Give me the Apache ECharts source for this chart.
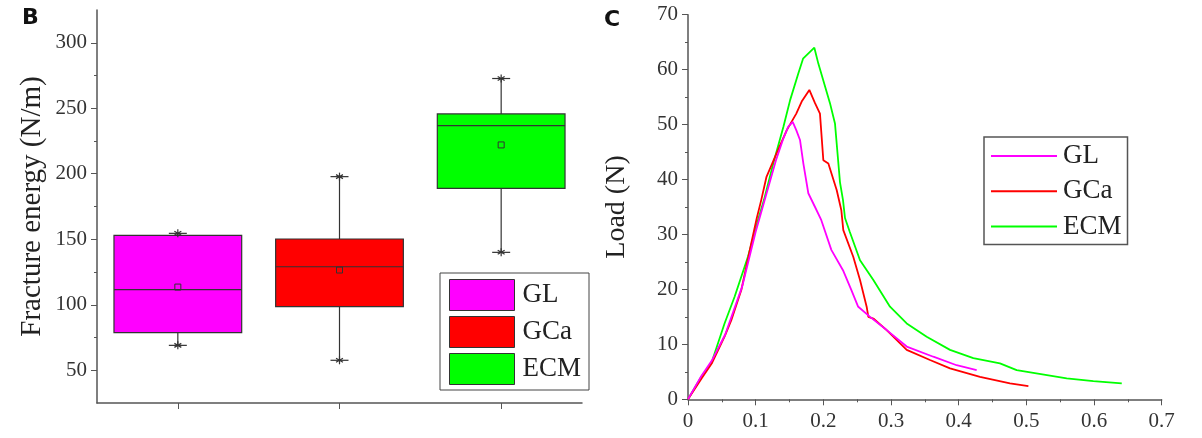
<!DOCTYPE html>
<html>
<head>
<meta charset="utf-8">
<script src="https://cdn.jsdelivr.net/npm/echarts@6/dist/echarts.min.js"></script>
<style>
  html, body { margin: 0; padding: 0; background: #fff; }
  #chart { width: 1202px; height: 438px; }
</style>
</head>
<body>
<div id="chart"></div>
<script>
// panel B: box plot of fracture energy
var groups = ['GL', 'GCa', 'ECM'];
var groupColors = ['#ff00ff', '#ff0000', '#00ff00'];
var boxMin = [69, 57.6, 140];
var boxQ1 = [78.7, 98.6, 188.8];
var boxMedian = [111.5, 129, 236.8];
var boxQ3 = [153, 150.2, 245.7];
var boxMax = [154.5, 197.8, 272.7];
var boxMean = [113.5, 126.5, 222];
var energyLabels = [50, 100, 150, 200, 250, 300];
var energyMinor = [75, 125, 175, 225, 275];

// panel C: load vs displacement curves
var glX = [0, 0.02, 0.035, 0.055, 0.08, 0.1, 0.115, 0.13, 0.141, 0.148, 0.1547, 0.16, 0.1655, 0.1705, 0.1778, 0.1877, 0.197, 0.2118, 0.229, 0.2413, 0.2512, 0.269, 0.2936, 0.3232, 0.3625, 0.397, 0.4266];
var glY = [0, 4.3, 7, 11.8, 20.5, 30.5, 37, 43.5, 47.5, 49.6, 50.5, 49, 47.2, 42.9, 37.5, 35, 32.6, 27.2, 23.5, 19.9, 16.9, 15, 12.6, 9.6, 7.75, 6.2, 5.3];
var gcaX = [0, 0.02, 0.035, 0.054, 0.064, 0.0788, 0.0935, 0.1015, 0.1083, 0.116, 0.131, 0.146, 0.16, 0.168, 0.1793, 0.1877, 0.195, 0.2, 0.2074, 0.2197, 0.2266, 0.2295, 0.2443, 0.2542, 0.264, 0.2665, 0.2739, 0.2936, 0.3232, 0.3576, 0.3872, 0.4315, 0.4758, 0.503];
var gcaY = [0, 3.8, 6.5, 11.4, 14.4, 19.9, 28.4, 32.9, 36.3, 40.5, 44.8, 49, 52, 54.2, 56.3, 53.9, 52, 43.5, 42.9, 38.1, 34.4, 30.8, 25.9, 21.7, 16.85, 15, 14.7, 12.6, 9, 7.15, 5.64, 4.1, 2.9, 2.4];
var ecmX = [0, 0.0197, 0.0345, 0.054, 0.069, 0.0887, 0.1034, 0.1123, 0.126, 0.141, 0.151, 0.163, 0.17, 0.1867, 0.1926, 0.2098, 0.2172, 0.2246, 0.229, 0.232, 0.239, 0.2542, 0.2739, 0.2985, 0.3232, 0.3527, 0.3872, 0.4216, 0.461, 0.4857, 0.5103, 0.5596, 0.599, 0.641];
var ecmY = [0, 4.1, 6.55, 13.8, 18.7, 26, 32.6, 36.3, 42.9, 49.6, 54.5, 59.3, 62, 64, 61.1, 53.9, 50.2, 39.5, 36.3, 33, 30.5, 25.3, 21.7, 16.85, 13.8, 11.4, 9, 7.5, 6.55, 5.3, 4.8, 3.8, 3.3, 2.9];

var serif = '"Liberation Serif", "Times New Roman", serif';
var axisColor = '#555';
var textColor = '#333';

function zip(xs, ys) {
    return xs.map(function (x, i) { return [x, ys[i]]; });
}

function asterisk(x, y, r) {
    var lines = [];
    [90, 30, -30].forEach(function (deg) {
        var a = deg * Math.PI / 180;
        var dx = Math.cos(a) * r, dy = Math.sin(a) * r;
        lines.push({
            type: 'line',
            shape: { x1: x - dx, y1: y - dy, x2: x + dx, y2: y + dy },
            style: { stroke: '#333', lineWidth: 1.2 }
        });
    });
    return lines;
}

function renderBox(params, api) {
    var cat = api.value(0);
    var pt = function (v) { return api.coord([cat, v]); };
    var band = api.size([1, 0])[0];
    var half = band * 0.79 / 2;
    var pMin = pt(api.value(1)), pQ1 = pt(api.value(2)), pMed = pt(api.value(3));
    var pQ3 = pt(api.value(4)), pMax = pt(api.value(5)), pMean = pt(api.value(6));
    var x = pMed[0];
    var line = function (x1, y1, x2, y2) {
        return { type: 'line', shape: { x1: x1, y1: y1, x2: x2, y2: y2 }, style: { stroke: '#333', lineWidth: 1.2 } };
    };
    var children = [
        line(x, pMax[1], x, pQ3[1]),
        line(x, pQ1[1], x, pMin[1]),
        line(x - 9, pMax[1], x + 9, pMax[1]),
        line(x - 9, pMin[1], x + 9, pMin[1]),
        {
            type: 'rect',
            shape: { x: x - half, y: pQ3[1], width: half * 2, height: pQ1[1] - pQ3[1] },
            style: { fill: api.visual('color'), stroke: '#333', lineWidth: 1.2 }
        },
        line(x - half, pMed[1], x + half, pMed[1]),
        {
            type: 'rect',
            shape: { x: x - 3, y: pMean[1] - 3, width: 6, height: 6 },
            style: { fill: 'none', stroke: '#333', lineWidth: 1 }
        }
    ];
    return { type: 'group', children: children.concat(asterisk(x, pMax[1], 4), asterisk(x, pMin[1], 4)) };
}

var boxSeries = groups.map(function (g, i) {
    return {
        name: g,
        type: 'custom',
        xAxisIndex: 0,
        yAxisIndex: 0,
        itemStyle: { color: groupColors[i] },
        renderItem: renderBox,
        encode: { x: 0, y: [1, 2, 3, 4, 5, 6] },
        data: [[i, boxMin[i], boxQ1[i], boxMedian[i], boxQ3[i], boxMax[i], boxMean[i]]],
        z: 2
    };
});

var curves = [zip(glX, glY), zip(gcaX, gcaY), zip(ecmX, ecmY)];
var lineSeries = groups.map(function (g, i) {
    return {
        name: g,
        type: 'line',
        xAxisIndex: 1,
        yAxisIndex: 2,
        symbol: 'none',
        lineStyle: { color: groupColors[i], width: 1.8 },
        data: curves[i],
        z: 3 - i
    };
});

var axisLabelStyle = { fontFamily: serif, fontSize: 21, color: textColor };

var option = {
    animation: false,
    backgroundColor: '#fff',
    graphic: [
        { type: 'text', left: 22, top: 7, style: { text: 'B', font: 'bold 22px "DejaVu Sans", sans-serif', fill: '#111' } },
        { type: 'text', left: 604, top: 9, style: { text: 'C', font: 'bold 22px "DejaVu Sans", sans-serif', fill: '#111' } }
    ],
    grid: [
        { left: 97, top: 10, width: 485, bottom: 35 },
        { left: 688, top: 14.7, width: 473.7, bottom: 38.7 }
    ],
    legend: [
        {
            data: groups,
            orient: 'vertical',
            left: 440,
            top: 273,
            icon: 'rect',
            itemWidth: 65,
            itemHeight: 31,
            itemGap: 5,
            padding: [6, 8, 5, 9],
            borderColor: '#444',
            borderWidth: 1,
            itemStyle: { borderColor: '#333', borderWidth: 1 },
            textStyle: { fontFamily: serif, fontSize: 27, color: '#222', lineHeight: 31, padding: [0, 0, 0, 3] }
        },
        {
            data: groups,
            orient: 'vertical',
            left: 984,
            top: 137,
            icon: 'rect',
            itemWidth: 66,
            itemHeight: 2,
            itemGap: 5.3,
            padding: [4, 6, 3, 7],
            borderColor: '#555',
            borderWidth: 1.5,
            itemStyle: { borderWidth: 0 },
            textStyle: { fontFamily: serif, fontSize: 27, color: '#222', lineHeight: 30, padding: [0, 0, 0, 1] }
        }
    ],
    xAxis: [
        {
            type: 'category',
            gridIndex: 0,
            data: groups,
            axisLine: { lineStyle: { color: axisColor, width: 1.5 } },
            axisTick: { show: true, alignWithLabel: true, interval: 0, length: 6, lineStyle: { color: axisColor } },
            axisLabel: { show: true, interval: 0, formatter: function () { return ''; } },
            splitLine: { show: false }
        },
        {
            type: 'value',
            gridIndex: 1,
            min: 0,
            max: 0.7,
            interval: 0.1,
            axisLine: { lineStyle: { color: axisColor, width: 1.5 } },
            axisTick: { length: 6, lineStyle: { color: axisColor } },
            minorTick: { show: true, splitNumber: 2, length: 3, lineStyle: { color: axisColor } },
            axisLabel: Object.assign({ margin: 12 }, axisLabelStyle),
            splitLine: { show: false }
        }
    ],
    yAxis: [
        {
            type: 'value',
            gridIndex: 0,
            position: 'left',
            min: 25,
            max: 325,
            interval: 25,
            name: 'Fracture energy (N/m)',
            nameLocation: 'middle',
            nameGap: 50,
            nameTextStyle: { fontFamily: serif, fontSize: 29, color: '#222' },
            axisLine: { show: true, lineStyle: { color: axisColor, width: 1.5 } },
            axisTick: { show: true, length: 6, customValues: energyLabels, lineStyle: { color: axisColor } },
            axisLabel: Object.assign({ margin: 10, customValues: energyLabels }, axisLabelStyle),
            splitLine: { show: false }
        },
        {
            type: 'value',
            gridIndex: 0,
            position: 'left',
            offset: 0,
            min: 25,
            max: 325,
            interval: 25,
            axisLine: { show: false },
            axisTick: { show: true, length: 3, customValues: energyMinor, lineStyle: { color: axisColor } },
            axisLabel: { show: false },
            splitLine: { show: false }
        },
        {
            type: 'value',
            gridIndex: 1,
            position: 'left',
            min: 0,
            max: 70,
            interval: 10,
            name: 'Load (N)',
            nameLocation: 'middle',
            nameGap: 57,
            nameTextStyle: { fontFamily: serif, fontSize: 28, color: '#222' },
            axisLine: { show: true, lineStyle: { color: axisColor, width: 1.5 } },
            axisTick: { show: true, length: 6, lineStyle: { color: axisColor } },
            minorTick: { show: true, splitNumber: 2, length: 3, lineStyle: { color: axisColor } },
            axisLabel: Object.assign({ margin: 10 }, axisLabelStyle),
            splitLine: { show: false }
        }
    ],
    series: boxSeries.concat(lineSeries)
};

var chart = echarts.init(document.getElementById('chart'));
chart.setOption(option);
</script>
</body>
</html>
